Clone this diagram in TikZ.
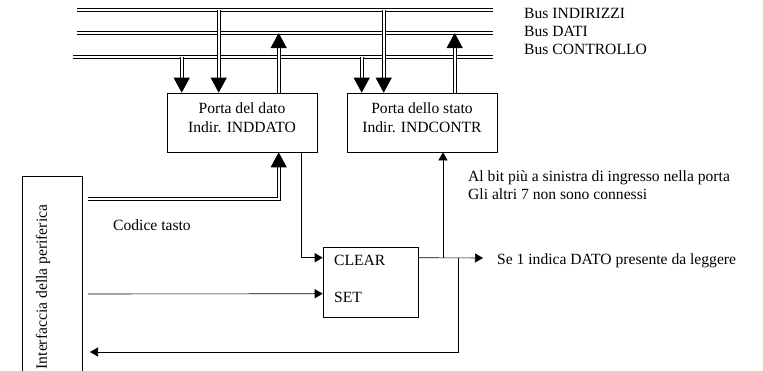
\documentclass[tikz,border=0pt]{standalone}
\usepackage{fontspec}
\setmainfont{Liberation Serif}
\usetikzlibrary{arrows.meta,positioning}
\tikzset{
  bus/.style={double, line width=0.9pt, double distance=1.8pt},
  busarrow/.style={bus, -{Triangle[width=16pt,length=15pt]}},
  wire/.style={line width=0.6pt, -{Triangle[width=9pt,length=8pt]}},
  box/.style={draw, line width=0.6pt, rectangle, inner sep=0pt},
  lbl/.style={inner sep=0pt, font=\fontsize{15.6}{18.5}\selectfont},
}
\begin{document}
\begin{tikzpicture}[x=1pt,y=-1pt]
\useasboundingbox (0,0) rectangle (763,370);
% bus
\coordinate (ind0) at (77,10);  \coordinate (ind1) at (493,10);
\coordinate (dat0) at (77,33);  \coordinate (dat1) at (493,33);
\coordinate (ctr0) at (73,57);  \coordinate (ctr1) at (493,57);
\draw[bus] (ind0) -- (ind1);
\draw[bus] (dat0) -- (dat1);
\draw[bus] (ctr0) -- (ctr1);
\node[lbl, anchor=west] at (524,13) {Bus INDIRIZZI};
\node[lbl, anchor=west] at (524,31) {Bus DATI};
\node[lbl, anchor=west] at (524,49) {Bus CONTROLLO};
% porte
\node[box, minimum width=150pt, minimum height=59pt] (dato) at (242,122.5) {};
\node[lbl, align=center] at (242,117.5) {Porta del dato\\Indir. INDDATO};
\node[box, minimum width=150pt, minimum height=59pt] (stato) at (422,122.5) {};
\node[lbl, align=center] at (422,117.5) {Porta dello stato\\Indir. INDCONTR};
\coordinate (d1) at ([xshift=15pt]dato.north west);
\coordinate (d2) at ([xshift=52pt]dato.north west);
\coordinate (d3) at ([xshift=112pt]dato.north west);
\coordinate (s1) at ([xshift=15pt]stato.north west);
\coordinate (s2) at ([xshift=37pt]stato.north west);
\coordinate (s3) at ([xshift=108pt]stato.north west);
\draw[busarrow] (d1 |- ctr0) -- (d1);
\draw[busarrow] (d2 |- ind0) -- (d2);
\draw[busarrow] (d3) -- (d3 |- dat0);
\draw[busarrow] (s1 |- ctr0) -- (s1);
\draw[busarrow] (s2 |- ind0) -- (s2);
\draw[busarrow] (s3) -- (s3 |- dat0);
% periferica
\node[box, minimum width=60pt, minimum height=230pt] (interf) at (52,291) {};
\node[lbl, rotate=90] at (43,287) {Interfaccia della periferica};
\coordinate (cod) at (88,199);
\coordinate (d4) at ([xshift=112pt]dato.south west);
\draw[busarrow] (cod) -| (d4);
\node[lbl] at (152,225) {Codice tasto};
% flip-flop
\node[box, minimum width=95pt, minimum height=70pt] (ff) at (370.5,282) {};
\node[lbl, anchor=west] at (334,260) {CLEAR};
\node[lbl, anchor=west] at (334,297) {SET};
\coordinate (clr) at ([yshift=-11pt]ff.north west);
\coordinate (set) at ([yshift=-47pt]ff.north west);
\coordinate (q) at ([yshift=-11pt]ff.north east);
\coordinate (d5) at ([xshift=135pt]dato.south west);
\draw[wire] (d5) |- (clr);
\coordinate (setsrc) at (88,294);
\draw[wire] (setsrc) -- (set);
\coordinate (qout) at (483,258);
\draw[wire] (q) -- (qout);
\node[lbl, anchor=west] at (497,261) {Se 1 indica DATO presente da leggere};
\coordinate (j1) at (443,258);
\draw[wire] (j1) -- (j1 |- stato.south);
\node[lbl, anchor=west] at (468,178) {Al bit più a sinistra di ingresso nella porta};
\node[lbl, anchor=west] at (468,194) {Gli altri 7 non sono connessi};
\coordinate (j2) at (458,258);
\coordinate (back) at (90,352);
\draw[wire] (j2) |- (back);
\end{tikzpicture}
\end{document}
